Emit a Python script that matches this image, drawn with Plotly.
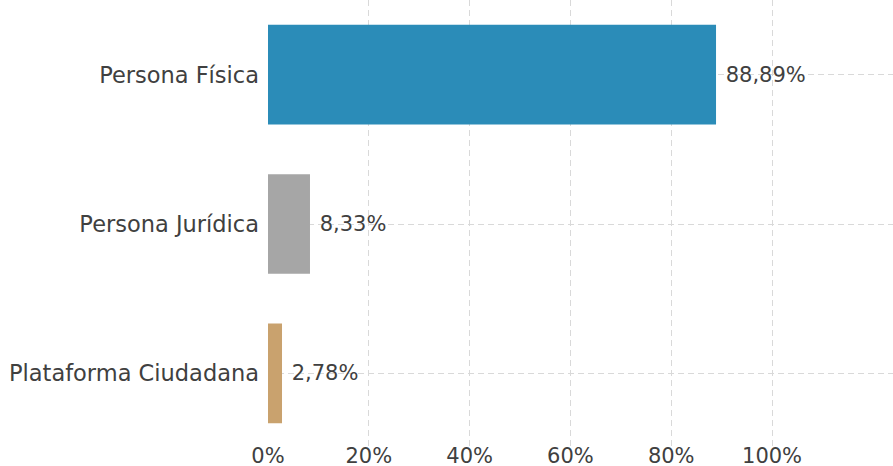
import plotly.graph_objects as go

categories = ["Persona Física", "Persona Jurídica", "Plataforma Ciudadana"]
values = [88.89, 8.33, 2.78]
colors = ["#2b8cb8", "#a6a6a6", "#c9a26e"]
tick_values = [0, 20, 40, 60, 80, 100]
tick_labels = ["0%", "20%", "40%", "60%", "80%", "100%"]

labels = [" " + f"{v:.2f}".replace(".", ",") + "%" for v in values]

fig = go.Figure(
    go.Bar(
        x=values,
        y=categories,
        orientation="h",
        marker=dict(color=colors, line=dict(width=0)),
        text=labels,
        textposition="outside",
        cliponaxis=False,
        textfont=dict(family="DejaVu Sans", size=21, color="#404040"),
        hoverinfo="skip",
    )
)

fig.update_layout(
    width=893,
    height=466,
    margin=dict(l=268, r=0, t=0, b=18),
    paper_bgcolor="white",
    plot_bgcolor="white",
    bargap=0.333,
    showlegend=False,
    font=dict(family="DejaVu Sans", size=21, color="#404040"),
)
fig.update_xaxes(
    range=[0, 124],
    tickvals=tick_values,
    ticktext=tick_labels,
    showgrid=True,
    gridcolor="#d9d9d9",
    griddash="6px,4px",
    gridwidth=1,
    zeroline=False,
    showline=False,
    ticks="",
    automargin=False,
    ticklabelstandoff=-7,
    tickfont=dict(family="DejaVu Sans", size=21, color="#404040"),
)
fig.update_yaxes(
    autorange="reversed",
    showgrid=True,
    gridcolor="#d9d9d9",
    griddash="6px,4px",
    gridwidth=1,
    zeroline=False,
    showline=False,
    ticks="",
    automargin=False,
    ticklabelstandoff=8,
    tickfont=dict(family="DejaVu Sans", size=22.5, color="#404040"),
)

fig.write_html(
    "out.html",
    config={"displayModeBar": False},
    post_script="document.body.style.margin='0';document.body.style.overflow='hidden';",
)
